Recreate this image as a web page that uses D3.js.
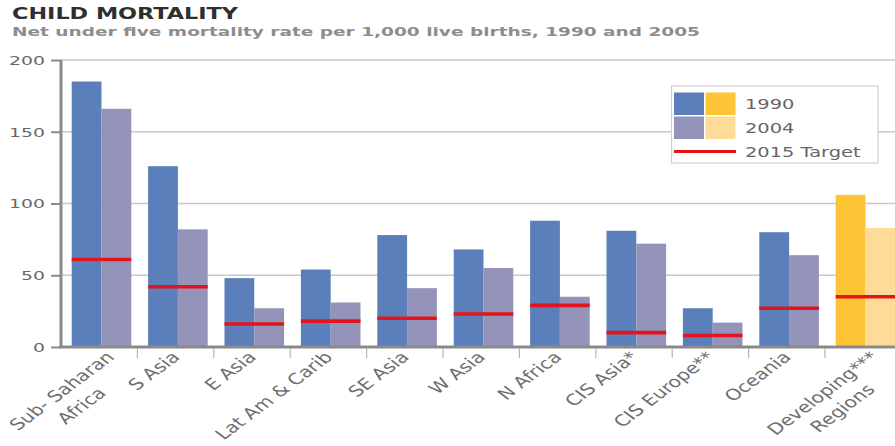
<!DOCTYPE html>
<html>
<head>
<meta charset="utf-8">
<script src="https://cdn.jsdelivr.net/npm/d3@7/dist/d3.min.js"></script>
<style>
  html, body { margin: 0; padding: 0; background: #fff; }
  svg { display: block; }
  text { font-family: "DejaVu Sans", Verdana, sans-serif; }
</style>
</head>
<body>
<svg id="chart" width="895" height="446"></svg>
<script>
// Under-five mortality per 1,000 live births by region
const categories = [
  "Sub- Saharan\nAfrica", "S Asia", "E Asia", "Lat Am & Carib", "SE Asia",
  "W Asia", "N Africa", "CIS Asia*", "CIS Europe**", "Oceania", "Developing***\nRegions"
];
const seriesNames = ["1990", "2004"];
const values1990 = [185, 126, 48, 54, 78, 68, 88, 81, 27, 80, 106];
const values2004 = [166, 82, 27, 31, 41, 55, 35, 72, 17, 64, 83];
const target2015 = [61, 42, 16, 18, 20, 23, 29, 10, 8, 27, 35];
const yTicks = [0, 50, 100, 150, 200];
const legendLabels = ["1990", "2004", "2015 Target"];

// regional bars in blue/lilac, the all-regions aggregate in gold tones
const regionColors = ["#5b7fba", "#9493b9"];
const aggregateColors = ["#fdc536", "#fedb98"];
const aggregateCategory = "Developing***\nRegions";
const targetColor = "#e3151b";

const svg = d3.select("#chart");
const W = 895, H = 446;
const margin = { left: 61, top: 60, bottom: 347 };
const stretch = 1.33; // horizontal widening applied to all text

function stretchedText(sel, x, y, sx) {
  return sel.attr("transform", `translate(${x},${y}) scale(${sx},1)`);
}

// Title and subtitle
svg.append("text")
  .attr("x", 12).attr("y", 19)
  .attr("font-size", 15).attr("font-weight", "bold")
  .attr("fill", "#2f2f2f")
  .attr("textLength", 226).attr("lengthAdjust", "spacingAndGlyphs")
  .text("CHILD MORTALITY");
svg.append("text")
  .attr("x", 12).attr("y", 35.5)
  .attr("font-size", 12.8).attr("font-weight", "bold")
  .attr("fill", "#8d8d8d")
  .attr("textLength", 688).attr("lengthAdjust", "spacingAndGlyphs")
  .text("Net under five mortality rate per 1,000 live births, 1990 and 2005");

// Scales
const x0 = d3.scaleBand()
  .domain(categories)
  .range([margin.left, margin.left + 76.4 * categories.length])
  .padding(0);
const bw = x0.bandwidth();
const x1 = d3.scaleBand()
  .domain(seriesNames)
  .range([0.14 * bw, 0.92 * bw])
  .padding(0);
const y = d3.scaleLinear().domain([0, 200]).range([margin.bottom, margin.top]);

// Gridlines
svg.append("g").selectAll("line")
  .data(yTicks.filter(t => t > 0))
  .join("line")
  .attr("x1", margin.left).attr("x2", W)
  .attr("y1", d => y(d)).attr("y2", d => y(d))
  .attr("stroke", "#c9c9c9").attr("stroke-width", 1.5);

// Bars
const rows = categories.map((c, i) => ({
  cat: c, values: [values1990[i], values2004[i]], target: target2015[i]
}));
const groups = svg.append("g").selectAll("g")
  .data(rows)
  .join("g")
  .attr("transform", d => `translate(${x0(d.cat)},0)`);
groups.selectAll("rect")
  .data(d => d.values.map((v, j) => ({ cat: d.cat, series: seriesNames[j], j, v })))
  .join("rect")
  .attr("x", d => x1(d.series))
  .attr("width", x1.bandwidth())
  .attr("y", d => y(d.v))
  .attr("height", d => y(0) - y(d.v))
  .attr("fill", d => (d.cat === aggregateCategory ? aggregateColors : regionColors)[d.j]);

// 2015 target markers across each pair of bars
groups.append("line")
  .attr("x1", x1(seriesNames[0]))
  .attr("x2", x1(seriesNames[1]) + x1.bandwidth())
  .attr("y1", d => y(d.target)).attr("y2", d => y(d.target))
  .attr("stroke", targetColor).attr("stroke-width", 3.6);

// Y axis
const yAxis = d3.axisLeft(y).tickValues(yTicks).tickSize(10).tickPadding(6);
const gy = svg.append("g").attr("transform", `translate(${margin.left},0)`).call(yAxis);
gy.select(".domain").remove();
gy.selectAll(".tick line").attr("stroke", "#8a8a8a").attr("stroke-width", 2);
gy.selectAll(".tick text").each(function() {
  const t = d3.select(this);
  t.attr("x", null).attr("dy", null)
    .attr("text-anchor", "end")
    .attr("dominant-baseline", "central")
    .attr("font-size", 13)
    .attr("font-family", "DejaVu Sans, sans-serif")
    .attr("fill", "#666");
  stretchedText(t, -16, 0, 1.45);
});
svg.append("line")
  .attr("x1", margin.left).attr("x2", margin.left)
  .attr("y1", y(200)).attr("y2", y(0) + 1)
  .attr("stroke", "#8a8a8a").attr("stroke-width", 3);

// X axis
svg.append("line")
  .attr("x1", margin.left - 2).attr("x2", W)
  .attr("y1", y(0)).attr("y2", y(0))
  .attr("stroke", "#8a8a8a").attr("stroke-width", 3);
// separators between categories
svg.append("g").selectAll("line")
  .data(categories.slice(1))
  .join("line")
  .attr("x1", d => x0(d)).attr("x2", d => x0(d))
  .attr("y1", y(0) + 1).attr("y2", y(0) + 11)
  .attr("stroke", "#b5b5b5").attr("stroke-width", 1.2);

// Category labels at 45 degrees, widened like the rest of the text
const labelSize = 15.4;
categories.forEach(c => {
  const lines = c.split("\n");
  const cx = x0(c) + 0.53 * bw;
  const shift = lines.length > 1 ? 14 : 3;
  const g = svg.append("g")
    .attr("transform", `translate(${cx + shift},${y(0) + 11}) scale(${stretch},1) rotate(-45)`);
  const first = g.append("text")
    .attr("text-anchor", "end")
    .attr("font-size", labelSize)
    .attr("fill", "#6e6e6e")
    .text(lines[0]);
  if (lines.length > 1) {
    const L = first.node().getComputedTextLength();
    g.append("text")
      .attr("text-anchor", "middle")
      .attr("x", -L / 2)
      .attr("y", 21)
      .attr("font-size", labelSize)
      .attr("fill", "#6e6e6e")
      .text(lines[1]);
  }
});

// Legend
const lg = svg.append("g");
lg.append("rect")
  .attr("x", 671.5).attr("y", 86).attr("width", 206.5).attr("height", 77)
  .attr("fill", "#fff").attr("stroke", "#cfcfcf").attr("stroke-width", 1.2);
const sw = 30, sh = 22.5;
seriesNames.forEach((s, j) => {
  [regionColors, aggregateColors].forEach((pal, k) => {
    lg.append("rect")
      .attr("x", 674 + k * (sw + 1.5)).attr("y", 92.5 + j * (sh + 1.5))
      .attr("width", sw).attr("height", sh)
      .attr("fill", pal[j]);
  });
});
lg.append("line")
  .attr("x1", 674).attr("x2", 736).attr("y1", 151.5).attr("y2", 151.5)
  .attr("stroke", targetColor).attr("stroke-width", 3);
legendLabels.forEach((t, i) => {
  const tx = lg.append("text")
    .attr("font-size", 14.6)
    .attr("fill", "#666")
    .text(t);
  stretchedText(tx, 745, 108.5 + i * 24.3, stretch);
});
</script>
</body>
</html>
